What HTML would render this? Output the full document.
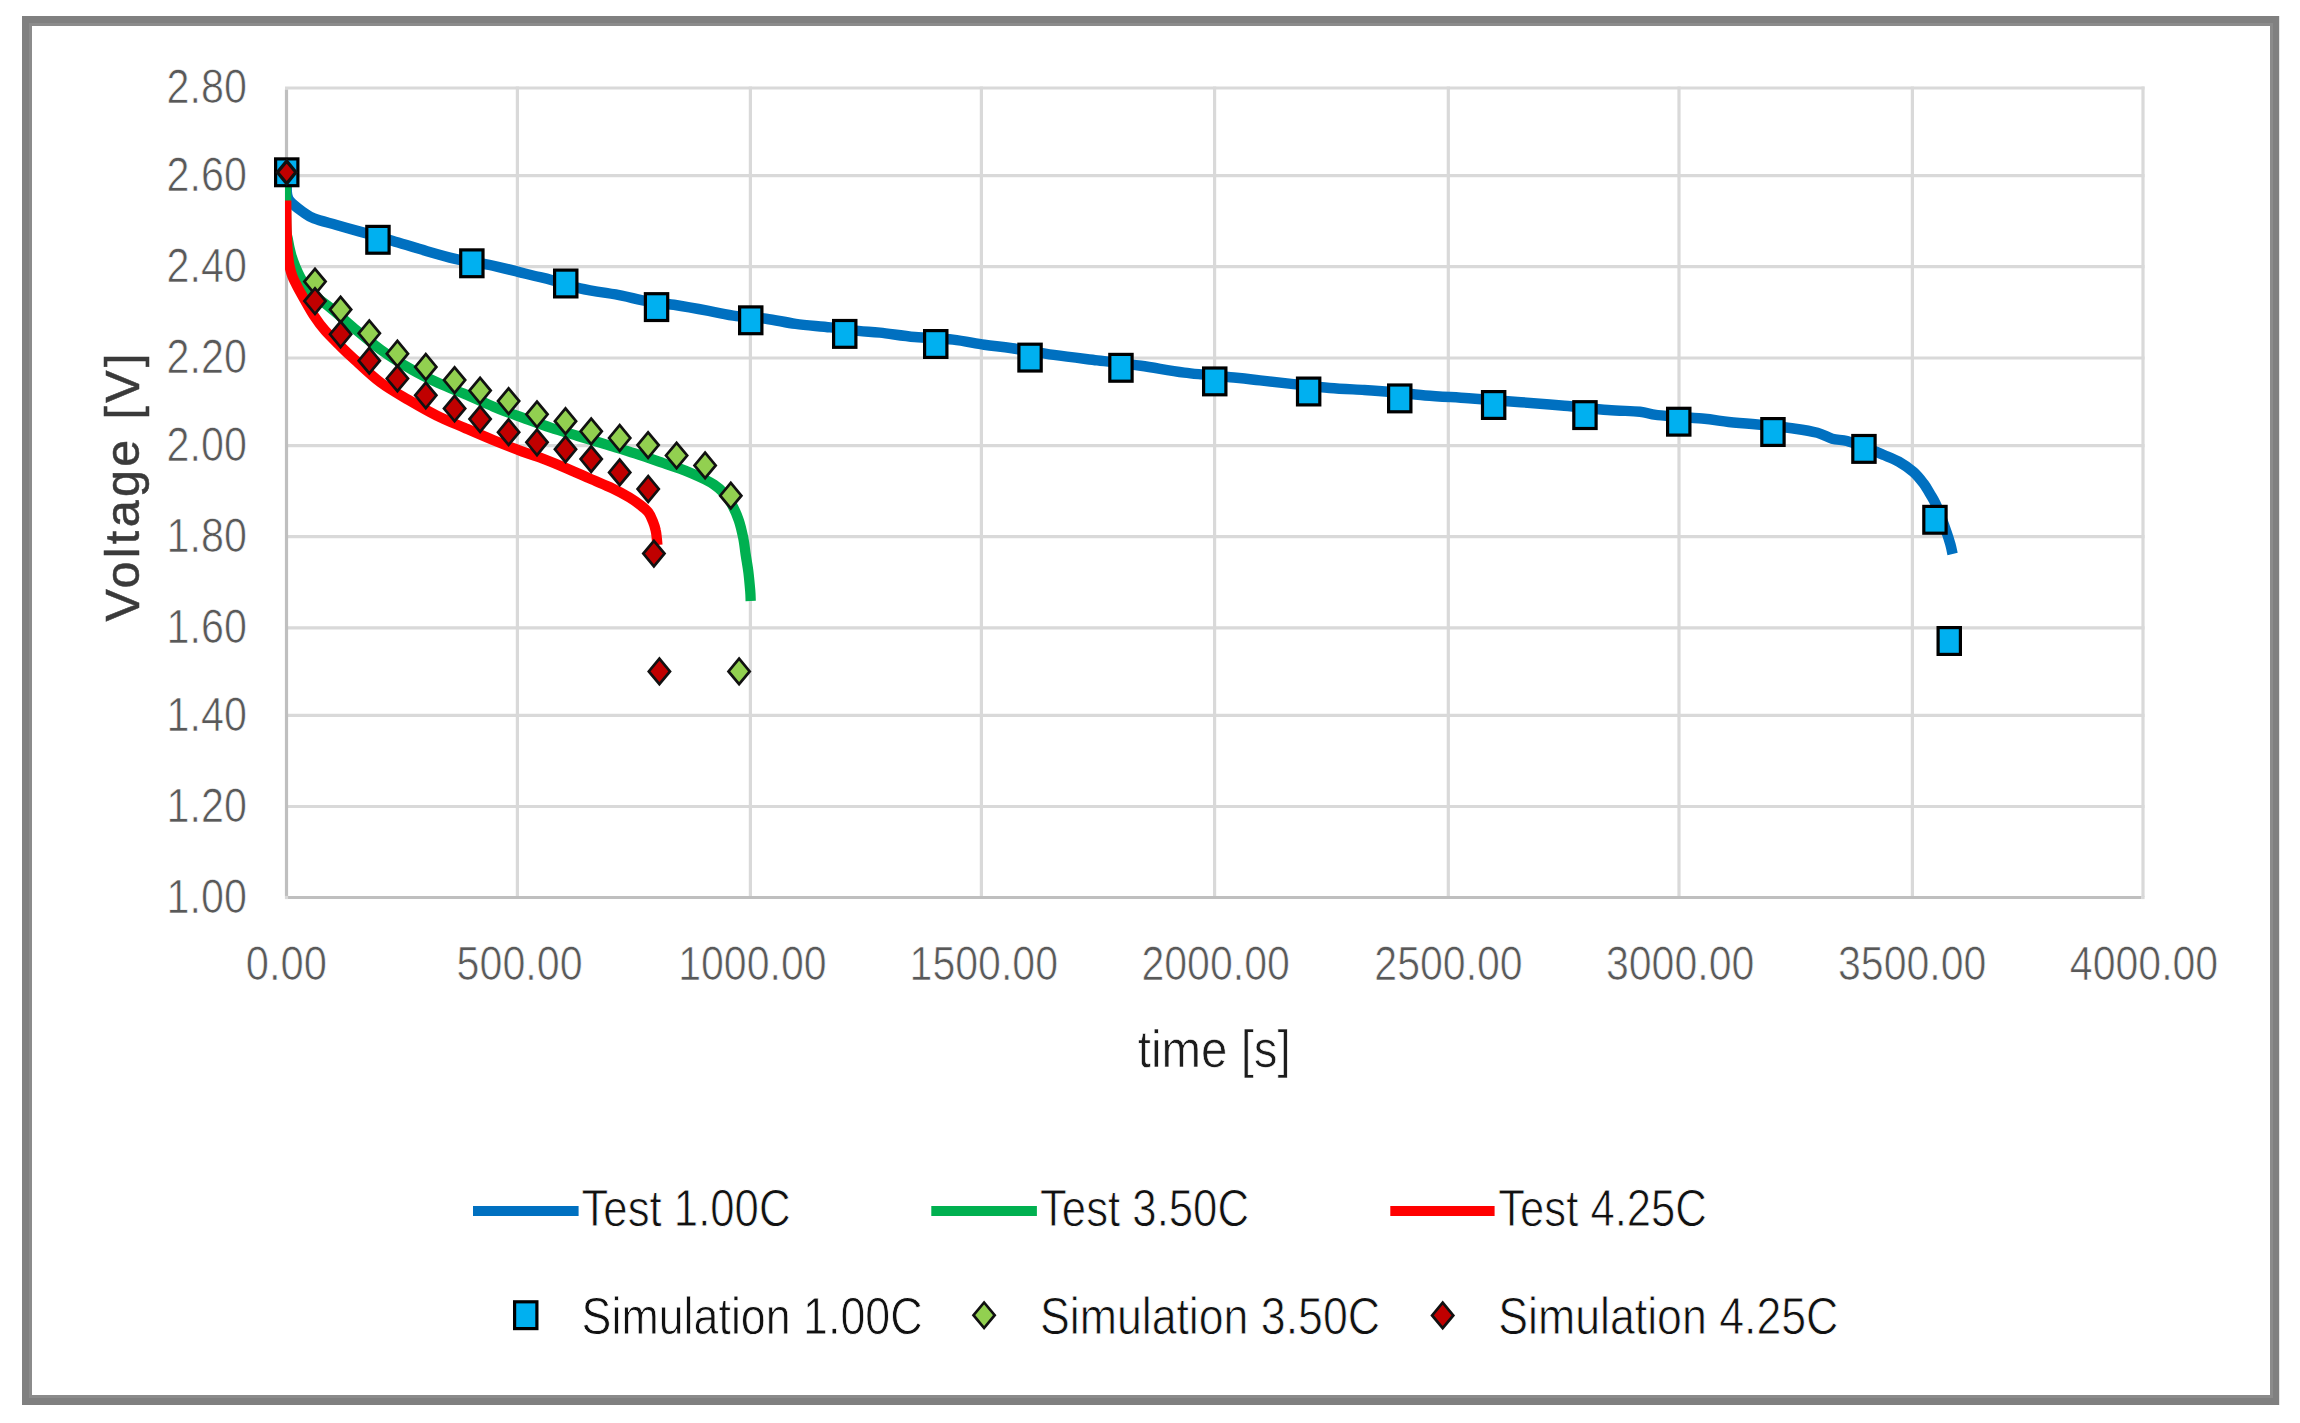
<!DOCTYPE html>
<html lang="en"><head><meta charset="utf-8"><title>Voltage vs time</title>
<style>html,body{margin:0;padding:0;background:#fff}body{width:2300px;height:1423px;overflow:hidden}svg{display:block}text{font-family:"Liberation Sans",sans-serif}</style></head><body>
<svg width="2300" height="1423" viewBox="0 0 2300 1423">
<rect width="2300" height="1423" fill="#fff"/>
<path d="M22 16H2279.2V1405H22Z M32 26V1395H2270V26Z" fill="#808080" fill-rule="evenodd"/>
<path d="M29 23H2273V1398H29Z M32 26V1395H2270V26Z" fill="#8b8b8b" fill-rule="evenodd"/>
<g stroke="#d9d9d9" stroke-width="3.2"><line x1="285" y1="88.0" x2="2144.5" y2="88.0"/><line x1="285" y1="175.7" x2="2144.5" y2="175.7"/><line x1="285" y1="266.6" x2="2144.5" y2="266.6"/><line x1="285" y1="358.0" x2="2144.5" y2="358.0"/><line x1="285" y1="445.6" x2="2144.5" y2="445.6"/><line x1="285" y1="536.6" x2="2144.5" y2="536.6"/><line x1="285" y1="627.9" x2="2144.5" y2="627.9"/><line x1="285" y1="715.4" x2="2144.5" y2="715.4"/><line x1="285" y1="806.5" x2="2144.5" y2="806.5"/><line x1="517.4" y1="86.5" x2="517.4" y2="897"/><line x1="750.4" y1="86.5" x2="750.4" y2="897"/><line x1="981.4" y1="86.5" x2="981.4" y2="897"/><line x1="1214.6" y1="86.5" x2="1214.6" y2="897"/><line x1="1448.3" y1="86.5" x2="1448.3" y2="897"/><line x1="1679.0" y1="86.5" x2="1679.0" y2="897"/><line x1="1912.4" y1="86.5" x2="1912.4" y2="897"/><line x1="2143.0" y1="86.5" x2="2143.0" y2="897"/></g>
<g stroke="#bfbfbf" stroke-width="3.2"><line x1="286.5" y1="89.5" x2="286.5" y2="896"/><line x1="288" y1="897.5" x2="2141.5" y2="897.5"/></g>
<rect x="284.9" y="895.9" width="3.2" height="3.2" fill="#d9d9d9"/><rect x="2141.4" y="895.9" width="3.2" height="3.2" fill="#d9d9d9"/>
<g fill="#595959" font-size="49" stroke="#fff" stroke-width="0.7"><text x="166.6" y="103.4" textLength="80.3" lengthAdjust="spacingAndGlyphs">2.80</text><text x="166.6" y="191.1" textLength="80.3" lengthAdjust="spacingAndGlyphs">2.60</text><text x="166.6" y="282.0" textLength="80.3" lengthAdjust="spacingAndGlyphs">2.40</text><text x="166.6" y="373.4" textLength="80.3" lengthAdjust="spacingAndGlyphs">2.20</text><text x="166.6" y="461.0" textLength="80.3" lengthAdjust="spacingAndGlyphs">2.00</text><text x="166.6" y="552.0" textLength="80.3" lengthAdjust="spacingAndGlyphs">1.80</text><text x="166.6" y="643.3" textLength="80.3" lengthAdjust="spacingAndGlyphs">1.60</text><text x="166.6" y="730.8" textLength="80.3" lengthAdjust="spacingAndGlyphs">1.40</text><text x="166.6" y="821.9" textLength="80.3" lengthAdjust="spacingAndGlyphs">1.20</text><text x="166.6" y="912.9" textLength="80.3" lengthAdjust="spacingAndGlyphs">1.00</text><text x="245.8" y="980.4" textLength="81.2" lengthAdjust="spacingAndGlyphs">0.00</text><text x="456.6" y="980.4" textLength="126.0" lengthAdjust="spacingAndGlyphs">500.00</text><text x="678.2" y="980.4" textLength="148.4" lengthAdjust="spacingAndGlyphs">1000.00</text><text x="909.6" y="980.4" textLength="148.4" lengthAdjust="spacingAndGlyphs">1500.00</text><text x="1141.4" y="980.4" textLength="148.4" lengthAdjust="spacingAndGlyphs">2000.00</text><text x="1374.3" y="980.4" textLength="148.4" lengthAdjust="spacingAndGlyphs">2500.00</text><text x="1605.9" y="980.4" textLength="148.4" lengthAdjust="spacingAndGlyphs">3000.00</text><text x="1838.0" y="980.4" textLength="148.4" lengthAdjust="spacingAndGlyphs">3500.00</text><text x="2069.8" y="980.4" textLength="148.4" lengthAdjust="spacingAndGlyphs">4000.00</text></g>
<text transform="translate(139.2 621.6) rotate(-90)" font-size="48.5" fill="#3a3a3a" stroke="#3a3a3a" stroke-width="0.5" textLength="268" lengthAdjust="spacing">Voltage [V]</text>
<text x="1137.8" y="1067" font-size="52.5" fill="#1c1c1c" stroke="#fff" stroke-width="0.7" textLength="153" lengthAdjust="spacingAndGlyphs">time [s]</text>
<clipPath id="pa"><rect x="285" y="80" width="1870" height="830"/></clipPath>
<g fill="none" stroke-linejoin="round" stroke-linecap="butt" clip-path="url(#pa)">
<path d="M286.5 172.0 C286.6 175.3 286.5 187.5 286.8 192.0 C287.1 196.5 287.6 197.1 288.5 199.0 C289.4 200.9 290.0 201.6 292.4 203.7 C294.8 205.8 299.0 209.2 302.6 211.7 C306.2 214.1 308.2 216.2 313.9 218.4 C319.5 220.6 329.0 222.8 336.5 225.0 C344.0 227.2 352.2 229.5 359.1 231.4 C366.0 233.3 372.2 234.9 377.9 236.5 C383.5 238.1 384.8 238.6 393.0 241.0 C401.2 243.4 416.6 248.2 427.0 251.2 C437.4 254.2 447.8 257.1 455.2 258.9 C462.6 260.7 466.0 261.0 471.6 262.0 C477.2 263.0 481.5 263.2 489.1 264.8 C496.7 266.4 509.8 269.7 517.4 271.6 C525.0 273.5 529.0 274.6 534.8 276.0 C540.6 277.4 544.7 278.1 552.2 280.2 C559.7 282.2 568.4 285.7 580.0 288.3 C591.6 290.9 611.3 293.6 621.7 295.6 C632.1 297.6 633.9 298.9 642.6 300.4 C651.3 301.9 662.9 303.1 673.9 304.8 C684.9 306.6 698.3 309.0 708.7 310.9 C719.1 312.8 727.0 314.8 736.5 316.1 C746.0 317.4 756.1 317.4 766.0 318.7 C775.9 320.0 785.0 322.4 795.7 323.9 C806.4 325.3 820.0 326.2 830.4 327.4 C840.8 328.6 850.0 330.0 858.3 330.9 C866.6 331.8 870.6 331.6 880.0 332.6 C889.4 333.6 902.6 335.8 914.8 337.0 C927.0 338.2 941.4 338.3 953.0 339.6 C964.6 340.9 974.4 343.4 984.3 344.8 C994.2 346.2 1000.6 346.6 1012.2 348.3 C1023.8 350.0 1039.7 352.9 1053.9 354.9 C1068.1 356.9 1082.9 358.6 1097.4 360.4 C1111.9 362.2 1126.4 363.7 1140.9 365.7 C1155.4 367.7 1168.4 370.6 1184.3 372.6 C1200.2 374.6 1223.9 376.5 1236.5 377.8 C1249.1 379.1 1250.9 379.4 1260.0 380.4 C1269.1 381.4 1279.7 382.6 1291.3 383.9 C1302.9 385.1 1317.4 386.9 1329.6 387.9 C1341.8 388.9 1355.0 389.4 1364.3 390.0 C1373.6 390.6 1375.0 390.5 1385.2 391.4 C1395.4 392.3 1411.3 394.2 1425.2 395.4 C1439.1 396.5 1452.8 397.2 1468.7 398.3 C1484.7 399.4 1505.0 401.0 1520.9 402.2 C1536.8 403.4 1549.8 404.4 1564.3 405.7 C1578.8 407.0 1595.2 409.0 1607.8 410.0 C1620.4 411.0 1631.7 410.8 1640.0 411.7 C1648.3 412.6 1647.4 414.0 1657.7 415.1 C1668.0 416.2 1690.3 417.4 1702.1 418.5 C1713.9 419.6 1720.3 421.1 1728.7 422.0 C1737.1 422.9 1741.2 422.9 1752.3 424.0 C1763.4 425.1 1784.3 427.2 1795.2 428.7 C1806.1 430.2 1811.2 431.1 1817.4 432.8 C1823.6 434.5 1827.3 437.3 1832.2 438.7 C1837.1 440.1 1841.7 439.6 1847.0 441.0 C1852.3 442.4 1857.8 444.7 1864.0 447.0 C1870.2 449.3 1878.1 452.6 1883.9 455.0 C1889.7 457.4 1893.8 458.8 1898.7 461.6 C1903.6 464.4 1909.3 468.3 1913.5 472.0 C1917.7 475.7 1920.8 479.9 1923.8 483.8 C1926.8 487.8 1929.2 492.4 1931.2 495.7 C1933.2 499.0 1933.9 500.1 1935.6 503.8 C1937.3 507.5 1939.7 513.2 1941.5 518.0 C1943.3 522.8 1945.2 528.2 1946.7 532.6 C1948.2 537.0 1949.4 540.8 1950.4 544.4 C1951.4 548.0 1952.2 552.4 1952.6 554.0" stroke="#0070c0" stroke-width="10.5"/>
<path d="M286.2 172.0 C286.2 181.0 285.9 214.7 286.2 226.0 C286.5 237.3 287.2 235.3 288.0 240.0 C288.8 244.7 289.8 249.5 291.0 254.0 C292.2 258.5 293.8 262.9 295.5 267.0 C297.2 271.1 298.8 274.7 301.0 278.5 C303.2 282.3 306.2 286.7 309.0 290.0 C311.8 293.3 314.9 295.9 318.0 298.5 C321.1 301.1 323.8 302.6 327.5 305.5 C331.2 308.4 335.8 312.4 340.0 316.0 C344.2 319.6 345.7 321.3 352.5 326.9 C359.3 332.5 370.7 342.5 380.6 349.6 C390.5 356.8 402.6 364.3 412.1 369.8 C421.7 375.3 428.7 378.6 437.9 382.8 C447.1 387.0 458.0 391.2 467.2 395.1 C476.4 399.0 486.6 403.7 493.0 406.4 C499.4 409.1 500.5 409.5 505.4 411.4 C510.3 413.3 515.0 414.9 522.5 417.6 C530.0 420.3 541.2 424.5 550.6 427.6 C560.0 430.7 569.5 433.4 578.7 436.2 C587.9 439.0 596.3 441.5 605.7 444.4 C615.1 447.3 625.4 450.3 634.9 453.4 C644.4 456.5 655.5 460.4 663.0 463.0 C670.5 465.6 675.2 467.0 679.9 468.7 C684.6 470.4 687.2 471.5 691.4 473.3 C695.6 475.1 701.2 477.6 705.0 479.5 C708.8 481.4 711.2 482.7 714.2 484.8 C717.2 486.9 720.2 489.2 723.0 492.2 C725.8 495.2 728.3 498.0 730.9 502.7 C733.5 507.4 736.8 514.4 738.8 520.3 C740.8 526.1 742.0 531.9 743.2 537.8 C744.4 543.6 744.9 549.5 745.8 555.4 C746.7 561.3 747.8 567.1 748.5 573.0 C749.2 578.9 749.8 585.8 750.2 590.5 C750.6 595.2 750.6 599.2 750.7 601.0" stroke="#00b050" stroke-width="10.3"/>
<path d="M286.2 200.5 C286.3 205.4 286.4 221.8 286.6 230.0 C286.8 238.2 287.2 244.2 287.6 250.0 C288.1 255.8 288.5 260.7 289.3 265.0 C290.1 269.3 291.1 272.7 292.3 276.0 C293.5 279.3 294.6 281.2 296.5 285.0 C298.4 288.8 301.1 293.6 304.0 298.7 C306.9 303.8 310.3 310.2 313.8 315.5 C317.3 320.8 320.8 325.7 325.2 330.7 C329.6 335.7 335.4 341.2 340.0 345.7 C344.6 350.2 345.7 351.6 352.5 357.7 C359.3 363.8 371.2 375.4 380.6 382.5 C390.0 389.6 399.3 394.5 408.7 400.0 C418.1 405.5 427.4 410.9 436.8 415.6 C446.2 420.3 455.5 423.9 464.9 428.0 C474.3 432.1 483.4 436.1 493.0 440.0 C502.6 443.9 513.8 448.4 522.5 451.6 C531.2 454.9 537.5 456.6 545.0 459.5 C552.5 462.4 560.0 465.5 567.5 468.7 C575.0 471.9 582.5 475.3 590.0 478.6 C597.5 481.9 605.9 485.2 612.4 488.3 C618.9 491.4 624.6 494.5 629.3 497.3 C634.0 500.1 637.3 502.6 640.5 505.1 C643.7 507.6 646.3 509.7 648.4 512.4 C650.5 515.1 651.7 518.4 652.9 521.4 C654.1 524.4 655.1 527.6 655.7 530.4 C656.4 533.2 656.5 535.9 656.8 538.3 C657.1 540.7 657.3 543.9 657.4 545.0" stroke="#ff0000" stroke-width="10.3"/>
</g>
<g><rect x="275.6" y="158.9" width="22.3" height="26.8" fill="#00b0f0" stroke="#000" stroke-width="3.2"/><rect x="366.8" y="226.4" width="22.3" height="26.8" fill="#00b0f0" stroke="#000" stroke-width="3.2"/><rect x="460.7" y="249.9" width="22.3" height="26.8" fill="#00b0f0" stroke="#000" stroke-width="3.2"/><rect x="554.6" y="270.1" width="22.3" height="26.8" fill="#00b0f0" stroke="#000" stroke-width="3.2"/><rect x="645.4" y="293.7" width="22.3" height="26.8" fill="#00b0f0" stroke="#000" stroke-width="3.2"/><rect x="739.6" y="306.9" width="22.3" height="26.8" fill="#00b0f0" stroke="#000" stroke-width="3.2"/><rect x="833.6" y="320.5" width="22.3" height="26.8" fill="#00b0f0" stroke="#000" stroke-width="3.2"/><rect x="924.6" y="330.6" width="22.3" height="26.8" fill="#00b0f0" stroke="#000" stroke-width="3.2"/><rect x="1018.9" y="344.2" width="22.3" height="26.8" fill="#00b0f0" stroke="#000" stroke-width="3.2"/><rect x="1109.8" y="354.4" width="22.3" height="26.8" fill="#00b0f0" stroke="#000" stroke-width="3.2"/><rect x="1203.6" y="368.0" width="22.3" height="26.8" fill="#00b0f0" stroke="#000" stroke-width="3.2"/><rect x="1297.5" y="378.1" width="22.3" height="26.8" fill="#00b0f0" stroke="#000" stroke-width="3.2"/><rect x="1388.6" y="385.0" width="22.3" height="26.8" fill="#00b0f0" stroke="#000" stroke-width="3.2"/><rect x="1482.5" y="391.6" width="22.3" height="26.8" fill="#00b0f0" stroke="#000" stroke-width="3.2"/><rect x="1573.8" y="401.7" width="22.3" height="26.8" fill="#00b0f0" stroke="#000" stroke-width="3.2"/><rect x="1667.6" y="408.3" width="22.3" height="26.8" fill="#00b0f0" stroke="#000" stroke-width="3.2"/><rect x="1761.8" y="418.6" width="22.3" height="26.8" fill="#00b0f0" stroke="#000" stroke-width="3.2"/><rect x="1852.8" y="435.5" width="22.3" height="26.8" fill="#00b0f0" stroke="#000" stroke-width="3.2"/><rect x="1923.8" y="506.4" width="22.3" height="26.8" fill="#00b0f0" stroke="#000" stroke-width="3.2"/><rect x="1938.1" y="627.6" width="22.3" height="26.8" fill="#00b0f0" stroke="#000" stroke-width="3.2"/></g>
<g><path d="M315.0 268.9 L325.6 281.6 L315.0 294.4 L304.4 281.6Z" fill="#92d050" stroke="#111" stroke-width="2.7" stroke-linejoin="miter"/><path d="M340.6 296.9 L351.2 309.6 L340.6 322.4 L330.0 309.6Z" fill="#92d050" stroke="#111" stroke-width="2.7" stroke-linejoin="miter"/><path d="M369.3 320.6 L379.9 333.3 L369.3 346.1 L358.7 333.3Z" fill="#92d050" stroke="#111" stroke-width="2.7" stroke-linejoin="miter"/><path d="M397.4 340.9 L408.0 353.7 L397.4 366.4 L386.8 353.7Z" fill="#92d050" stroke="#111" stroke-width="2.7" stroke-linejoin="miter"/><path d="M425.8 354.1 L436.4 366.9 L425.8 379.6 L415.2 366.9Z" fill="#92d050" stroke="#111" stroke-width="2.7" stroke-linejoin="miter"/><path d="M454.6 367.4 L465.2 380.1 L454.6 392.9 L444.0 380.1Z" fill="#92d050" stroke="#111" stroke-width="2.7" stroke-linejoin="miter"/><path d="M480.1 377.9 L490.7 390.6 L480.1 403.4 L469.5 390.6Z" fill="#92d050" stroke="#111" stroke-width="2.7" stroke-linejoin="miter"/><path d="M508.6 388.4 L519.2 401.1 L508.6 413.9 L498.0 401.1Z" fill="#92d050" stroke="#111" stroke-width="2.7" stroke-linejoin="miter"/><path d="M537.0 401.6 L547.6 414.3 L537.0 427.1 L526.4 414.3Z" fill="#92d050" stroke="#111" stroke-width="2.7" stroke-linejoin="miter"/><path d="M565.5 408.4 L576.1 421.2 L565.5 433.9 L554.9 421.2Z" fill="#92d050" stroke="#111" stroke-width="2.7" stroke-linejoin="miter"/><path d="M591.2 418.6 L601.8 431.3 L591.2 444.1 L580.6 431.3Z" fill="#92d050" stroke="#111" stroke-width="2.7" stroke-linejoin="miter"/><path d="M619.7 425.2 L630.3 438.0 L619.7 450.8 L609.1 438.0Z" fill="#92d050" stroke="#111" stroke-width="2.7" stroke-linejoin="miter"/><path d="M648.1 432.4 L658.7 445.1 L648.1 457.9 L637.5 445.1Z" fill="#92d050" stroke="#111" stroke-width="2.7" stroke-linejoin="miter"/><path d="M676.6 442.8 L687.2 455.5 L676.6 468.2 L666.0 455.5Z" fill="#92d050" stroke="#111" stroke-width="2.7" stroke-linejoin="miter"/><path d="M705.1 452.6 L715.7 465.4 L705.1 478.1 L694.5 465.4Z" fill="#92d050" stroke="#111" stroke-width="2.7" stroke-linejoin="miter"/><path d="M730.8 482.9 L741.4 495.7 L730.8 508.4 L720.2 495.7Z" fill="#92d050" stroke="#111" stroke-width="2.7" stroke-linejoin="miter"/><path d="M739.1 658.6 L749.7 671.4 L739.1 684.1 L728.5 671.4Z" fill="#92d050" stroke="#111" stroke-width="2.7" stroke-linejoin="miter"/></g>
<g><path d="M286.7 161.1 L295.9 172.3 L286.7 183.6 L277.4 172.3Z" fill="#c00000" stroke="#111" stroke-width="3.3" stroke-linejoin="miter"/><path d="M315.0 288.4 L325.6 301.1 L315.0 313.9 L304.4 301.1Z" fill="#c00000" stroke="#111" stroke-width="2.7" stroke-linejoin="miter"/><path d="M340.6 321.6 L351.2 334.3 L340.6 347.1 L330.0 334.3Z" fill="#c00000" stroke="#111" stroke-width="2.7" stroke-linejoin="miter"/><path d="M369.3 347.9 L379.9 360.7 L369.3 373.4 L358.7 360.7Z" fill="#c00000" stroke="#111" stroke-width="2.7" stroke-linejoin="miter"/><path d="M397.4 365.8 L408.0 378.5 L397.4 391.2 L386.8 378.5Z" fill="#c00000" stroke="#111" stroke-width="2.7" stroke-linejoin="miter"/><path d="M425.8 382.6 L436.4 395.3 L425.8 408.1 L415.2 395.3Z" fill="#c00000" stroke="#111" stroke-width="2.7" stroke-linejoin="miter"/><path d="M454.6 395.8 L465.2 408.5 L454.6 421.2 L444.0 408.5Z" fill="#c00000" stroke="#111" stroke-width="2.7" stroke-linejoin="miter"/><path d="M480.1 406.4 L490.7 419.1 L480.1 431.9 L469.5 419.1Z" fill="#c00000" stroke="#111" stroke-width="2.7" stroke-linejoin="miter"/><path d="M508.6 419.4 L519.2 432.2 L508.6 444.9 L498.0 432.2Z" fill="#c00000" stroke="#111" stroke-width="2.7" stroke-linejoin="miter"/><path d="M537.0 429.6 L547.6 442.3 L537.0 455.1 L526.4 442.3Z" fill="#c00000" stroke="#111" stroke-width="2.7" stroke-linejoin="miter"/><path d="M565.5 436.6 L576.1 449.3 L565.5 462.1 L554.9 449.3Z" fill="#c00000" stroke="#111" stroke-width="2.7" stroke-linejoin="miter"/><path d="M591.2 446.4 L601.8 459.1 L591.2 471.9 L580.6 459.1Z" fill="#c00000" stroke="#111" stroke-width="2.7" stroke-linejoin="miter"/><path d="M619.7 459.6 L630.3 472.4 L619.7 485.1 L609.1 472.4Z" fill="#c00000" stroke="#111" stroke-width="2.7" stroke-linejoin="miter"/><path d="M648.2 476.2 L658.8 489.0 L648.2 501.8 L637.6 489.0Z" fill="#c00000" stroke="#111" stroke-width="2.7" stroke-linejoin="miter"/><path d="M653.9 540.9 L664.5 553.6 L653.9 566.4 L643.3 553.6Z" fill="#c00000" stroke="#111" stroke-width="2.7" stroke-linejoin="miter"/><path d="M659.4 658.6 L670.0 671.4 L659.4 684.1 L648.8 671.4Z" fill="#c00000" stroke="#111" stroke-width="2.7" stroke-linejoin="miter"/></g>
<line x1="473" y1="1211" x2="578.6" y2="1211" stroke="#0070c0" stroke-width="10"/><line x1="931.3" y1="1211" x2="1036.9" y2="1211" stroke="#00b050" stroke-width="10"/><line x1="1390.3" y1="1211" x2="1494.6" y2="1211" stroke="#ff0000" stroke-width="10"/><rect x="514.6" y="1301.8" width="22.3" height="26.8" fill="#00b0f0" stroke="#000" stroke-width="3.2"/><path d="M984.1 1302.5 L994.7 1315.2 L984.1 1328.0 L973.5 1315.2Z" fill="#92d050" stroke="#111" stroke-width="2.7" stroke-linejoin="miter"/><path d="M1442.7 1302.7 L1453.3 1315.4 L1442.7 1328.2 L1432.1 1315.4Z" fill="#c00000" stroke="#111" stroke-width="2.7" stroke-linejoin="miter"/>
<g fill="#111" font-size="51.5" stroke="#fff" stroke-width="0.8"><text x="581.5" y="1226" textLength="209.0" lengthAdjust="spacingAndGlyphs">Test 1.00C</text><text x="1040.0" y="1226" textLength="209.0" lengthAdjust="spacingAndGlyphs">Test 3.50C</text><text x="1498.3" y="1226" textLength="208.5" lengthAdjust="spacingAndGlyphs">Test 4.25C</text><text x="581.6" y="1333.8" textLength="341.0" lengthAdjust="spacingAndGlyphs">Simulation 1.00C</text><text x="1040.0" y="1333.8" textLength="340.0" lengthAdjust="spacingAndGlyphs">Simulation 3.50C</text><text x="1498.3" y="1333.8" textLength="340.0" lengthAdjust="spacingAndGlyphs">Simulation 4.25C</text></g>
</svg></body></html>
